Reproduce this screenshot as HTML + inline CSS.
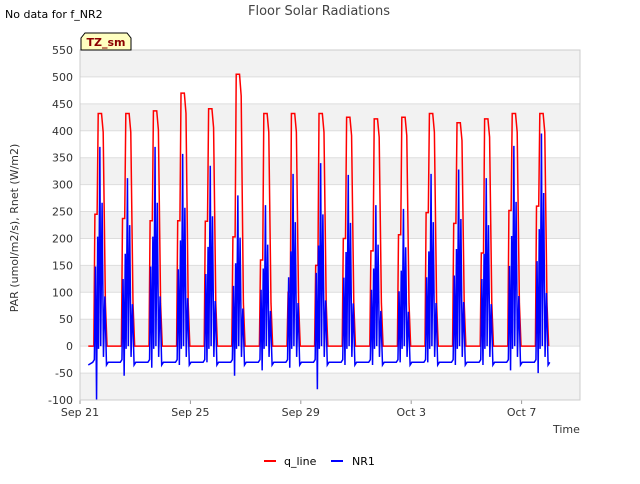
<!DOCTYPE html>
<html><head><meta charset="utf-8"><style>
body{margin:0;background:#fff;font-family:"DejaVu Sans","Liberation Sans",sans-serif}
</style></head><body>
<svg width="640" height="480" xmlns="http://www.w3.org/2000/svg" font-family="DejaVu Sans, Liberation Sans, sans-serif">
<text x="5" y="18" font-size="11">No data for f_NR2</text>
<text x="319" y="15" font-size="13" fill="#444" text-anchor="middle">Floor Solar Radiations</text>
<g id="grid"></g>
<g id="series"></g>
<rect x="80" y="50" width="500" height="350" fill="none" stroke="#ccc"/>
<g><path d="M81,50 L81,38 L85,33 L127,33 L131,38 L131,50 Z" fill="#ffffc0" stroke="#000"/><text x="106" y="46" font-size="11" font-weight="bold" fill="#8b0000" text-anchor="middle">TZ_sm</text></g>
<text transform="translate(18,228) rotate(-90)" font-size="11" fill="#333" text-anchor="middle">PAR (umol/m2/s), Rnet (W/m2)</text>
<text x="553" y="433" font-size="11" fill="#333">Time</text>
<g>
<line x1="264" y1="461" x2="276" y2="461" stroke="#f00" stroke-width="2"/><text x="284" y="465" font-size="11">q_line</text>
<line x1="331" y1="461" x2="343" y2="461" stroke="#00f" stroke-width="2"/><text x="352" y="465" font-size="11">NR1</text>
</g>
</svg>
<script>
const yTicks=[-100,-50,0,50,100,150,200,250,300,350,400,450,500,550];
const xTickDays=[0,4,8,12,16];
const xTickLabels=["Sep 21","Sep 25","Sep 29","Oct 3","Oct 7"];
const qPeak=[432,432,437,470,441,505,432,432,432,425,422,425,432,415,422,432,432];
const qShoulder=[245,237,233,233,232,203,160,100,150,200,177,207,248,228,173,252,260];
const nrPeak=[370,312,370,357,335,280,262,320,340,318,262,255,320,328,312,372,395];
const nrMin=[-100,-55,-40,-35,-30,-55,-45,-40,-80,-35,-35,-30,-30,-35,-35,-45,-50];
const NS="http://www.w3.org/2000/svg";
const X=t=>80+t*27.6, Y=v=>400-(v+100)*350/650;
const grid=document.getElementById('grid'), ser=document.getElementById('series');
function mk(tag,attrs,parent){const e=document.createElementNS(NS,tag);for(const k in attrs)e.setAttribute(k,attrs[k]);parent.appendChild(e);return e;}
yTicks.forEach((v,i)=>{
  if(i<yTicks.length-1&&i%2===0){const r=mk('rect',{x:80,y:Y(yTicks[i+1]),width:500,height:Y(v)-Y(yTicks[i+1]),fill:'#f2f2f2'},grid);
  
  }
  const l=mk('line',{x1:80,x2:580,y1:Y(v),y2:Y(v),stroke:'#ddd'},grid);
  
  
  const t=mk('text',{x:73,y:Y(v)+4,'font-size':11,'text-anchor':'end',fill:'#333'},grid);t.textContent=v;
  
  
});
xTickDays.forEach((d,i)=>{
  mk('line',{x1:X(d),x2:X(d),y1:400,y2:404,stroke:'#999'},grid);
  const t=mk('text',{x:X(d),y:416,'font-size':11,'text-anchor':'middle',fill:'#333'},grid);t.textContent=xTickLabels[i];
  
  
});
let q=[[0.3,0]],n=[[0.3,-35]];
qPeak.forEach((pk,d)=>{
  const s=qShoulder[d];
  q.push([d+0.5,0],[d+0.54,s],[d+0.62,s],[d+0.66,pk],[d+0.78,pk],[d+0.84,pk*0.92],[d+0.92,80],[d+0.98,0],[d+1.45,0]);
  const p=nrPeak[d];
  n.push([d+0.46,-30],[d+0.52,-25],[d+0.56,0.4*p],[d+0.6,nrMin[d]],[d+0.64,0.55*p],[d+0.67,-5],[d+0.72,p],[d+0.75,0],[d+0.8,0.72*p],[d+0.85,-20],[d+0.9,0.25*p],[d+0.96,-35],[d+1.02,-30],[d+1.45,-30]);
});
q=q.filter(p=>p[0]<=17.1);n=n.filter(p=>p[0]<=17.1);
const pq=mk('polyline',{points:q.map(p=>X(p[0])+','+Y(p[1])).join(' '),fill:'none',stroke:'#f00','stroke-width':1.5},ser);


const pn=mk('polyline',{points:n.map(p=>X(p[0])+','+Y(p[1])).join(' '),fill:'none',stroke:'#00f','stroke-width':1.5},ser);


</script>
</body></html>
